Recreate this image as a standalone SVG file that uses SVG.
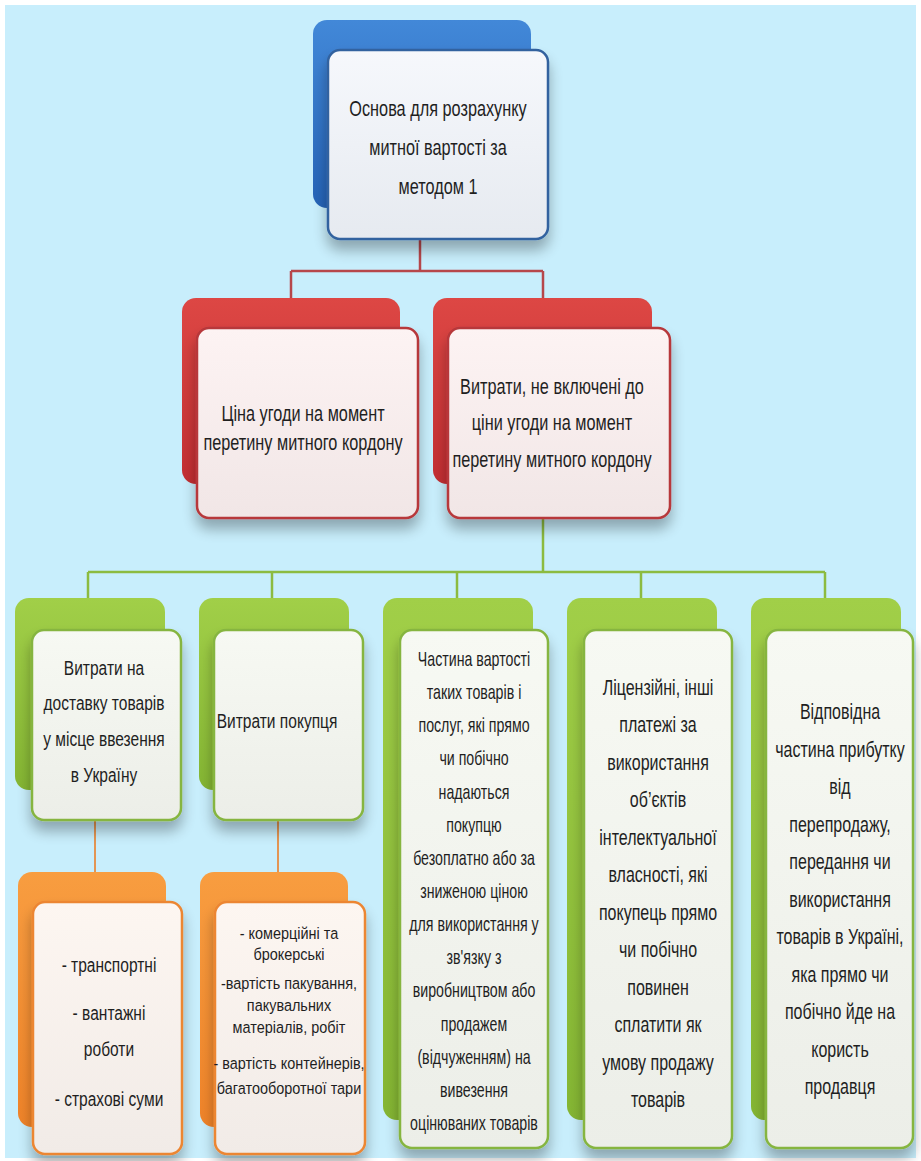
<svg xmlns="http://www.w3.org/2000/svg" width="921" height="1161" viewBox="0 0 921 1161">
  <defs>
    <style>
      .t { font-family: "Liberation Sans", "DejaVu Sans", sans-serif; fill: #1f1f1f; text-anchor: middle; }
      .f22 { font-size: 22px; }
      .f215 { font-size: 21.5px; }
      .f21 { font-size: 21px; }
      .f20 { font-size: 20px; }
      .f17 { font-size: 17px; }
      .back { stroke: none; }
      .front { stroke-width: 2.5; filter: url(#shadow); }
      .blue .back { fill: url(#gBlue); }
      .blue .front { fill: url(#gWhiteBlue); stroke: #33629f; }
      .red .back { fill: url(#gRed); }
      .red .front { fill: url(#gWhiteRed); stroke: #b7373a; }
      .green .back { fill: url(#gGreen); }
      .green .front { fill: url(#gWhiteGreen); stroke: #86b540; }
      .orange .back { fill: url(#gOrange); }
      .orange .front { fill: url(#gWhiteOrange); stroke: #ec8633; }
      .c-red { stroke: #b6474b; stroke-width: 2.5; fill: none; }
      .c-green { stroke: #8cbb40; stroke-width: 2.5; fill: none; }
      .c-orange { stroke: #e39553; stroke-width: 2; fill: none; }
    </style>
    <linearGradient id="gBlue" x1="0" y1="0" x2="0" y2="1">
      <stop offset="0" stop-color="#4288d8"/>
      <stop offset="1" stop-color="#2563b6"/>
    </linearGradient>
    <linearGradient id="gRed" x1="0" y1="0" x2="0" y2="1">
      <stop offset="0" stop-color="#dd4744"/>
      <stop offset="1" stop-color="#c22e32"/>
    </linearGradient>
    <linearGradient id="gGreen" x1="0" y1="0" x2="0" y2="1">
      <stop offset="0" stop-color="#a1cf48"/>
      <stop offset="1" stop-color="#84b533"/>
    </linearGradient>
    <linearGradient id="gOrange" x1="0" y1="0" x2="0" y2="1">
      <stop offset="0" stop-color="#f89d40"/>
      <stop offset="1" stop-color="#ef8329"/>
    </linearGradient>
    <linearGradient id="gWhiteBlue" x1="0" y1="0" x2="0" y2="1">
      <stop offset="0" stop-color="#f6f8fc"/>
      <stop offset="1" stop-color="#e6eaf0"/>
    </linearGradient>
    <linearGradient id="gWhiteRed" x1="0" y1="0" x2="0" y2="1">
      <stop offset="0" stop-color="#fdf3f3"/>
      <stop offset="1" stop-color="#f1e6e6"/>
    </linearGradient>
    <linearGradient id="gWhiteGreen" x1="0" y1="0" x2="0" y2="1">
      <stop offset="0" stop-color="#f7f9f3"/>
      <stop offset="1" stop-color="#eceee8"/>
    </linearGradient>
    <linearGradient id="gWhiteOrange" x1="0" y1="0" x2="0" y2="1">
      <stop offset="0" stop-color="#fdf6f1"/>
      <stop offset="1" stop-color="#f1ebe7"/>
    </linearGradient>
    <filter id="shadow" x="-20%" y="-20%" width="140%" height="150%">
      <feGaussianBlur in="SourceAlpha" stdDeviation="7"/>
      <feOffset dx="0" dy="10" result="off"/>
      <feComponentTransfer>
        <feFuncA type="linear" slope="0.3"/>
      </feComponentTransfer>
      <feMerge>
        <feMergeNode/>
        <feMergeNode in="SourceGraphic"/>
      </feMerge>
    </filter>
  </defs>

  <!-- canvas -->
  <rect x="0" y="0" width="921" height="1161" fill="#ffffff"/>
  <rect x="5" y="5" width="911" height="1153" fill="#c8eefc"/>

  <!-- connectors -->
  <g id="connectors">
    <path class="c-red" d="M420 239 V271 M291 271 H543 M291 271 V299 M543 271 V299"/>
    <path class="c-green" d="M543 518 V572 M88 572 H825 M88 572 V599 M272 572 V599 M457 572 V599 M641 572 V599 M825 572 V599"/>
    <path class="c-orange" d="M95 820 V873 M278 820 V873"/>
  </g>

  <!-- level 1 -->
  <g id="node-root" class="blue">
    <rect class="back" x="313" y="20" width="218" height="188" rx="14"/>
    <rect class="front" x="328" y="50" width="220" height="189" rx="12"/>
    <g class="t f22" transform="translate(438 0) scale(0.74 1)">
      <text x="0" y="116">Основа для розрахунку</text>
      <text x="0" y="155">митної вартості за</text>
      <text x="0" y="194">методом 1</text>
    </g>
  </g>

  <!-- level 2 -->
  <g id="node-price" class="red">
    <rect class="back" x="182" y="298" width="218" height="186" rx="14"/>
    <rect class="front" x="197" y="328" width="221" height="190" rx="12"/>
    <g class="t f22" transform="translate(303 0) scale(0.74 1)">
      <text x="0" y="421">Ціна угоди на момент</text>
      <text x="0" y="450">перетину митного кордону</text>
    </g>
  </g>

  <g id="node-costs" class="red">
    <rect class="back" x="433" y="298" width="219" height="186" rx="14"/>
    <rect class="front" x="448" y="328" width="222" height="190" rx="12"/>
    <g class="t f22" transform="translate(552 0) scale(0.74 1)">
      <text x="0" y="394">Витрати, не включені до</text>
      <text x="0" y="430">ціни угоди на момент</text>
      <text x="0" y="467">перетину митного кордону</text>
    </g>
  </g>

  <!-- level 3 -->
  <g id="node-delivery" class="green">
    <rect class="back" x="15" y="598" width="150" height="192" rx="14"/>
    <rect class="front" x="32" y="630" width="149" height="190" rx="12"/>
    <g class="t f21" transform="translate(104 0) scale(0.74 1)">
      <text x="0" y="675">Витрати на</text>
      <text x="0" y="710">доставку товарів</text>
      <text x="0" y="746">у місце ввезення</text>
      <text x="0" y="782">в Україну</text>
    </g>
  </g>

  <g id="node-buyer" class="green">
    <rect class="back" x="199" y="598" width="150" height="192" rx="14"/>
    <rect class="front" x="214" y="630" width="149" height="190" rx="12"/>
    <g class="t f21" transform="translate(277 0) scale(0.74 1)">
      <text x="0" y="728">Витрати покупця</text>
    </g>
  </g>

  <g id="node-share" class="green">
    <rect class="back" x="383" y="598" width="150" height="522" rx="14"/>
    <rect class="front" x="400" y="630" width="148" height="518" rx="12"/>
    <g class="t f20" transform="translate(474 0) scale(0.71 1)">
      <text x="0" y="666">Частина вартості</text>
      <text x="0" y="699">таких товарів і</text>
      <text x="0" y="732">послуг, які прямо</text>
      <text x="0" y="765">чи побічно</text>
      <text x="0" y="799">надаються</text>
      <text x="0" y="832">покупцю</text>
      <text x="0" y="865">безоплатно або за</text>
      <text x="0" y="898">зниженою ціною</text>
      <text x="0" y="931">для використання у</text>
      <text x="0" y="964">зв'язку з</text>
      <text x="0" y="997">виробництвом або</text>
      <text x="0" y="1031">продажем</text>
      <text x="0" y="1064">(відчуженням) на</text>
      <text x="0" y="1097">вивезення</text>
      <text x="0" y="1130">оцінюваних товарів</text>
    </g>
  </g>

  <g id="node-license" class="green">
    <rect class="back" x="567" y="598" width="150" height="522" rx="14"/>
    <rect class="front" x="584" y="630" width="148" height="518" rx="12"/>
    <g class="t f215" transform="translate(658 0) scale(0.745 1)">
      <text x="0" y="695">Ліцензійні, інші</text>
      <text x="0" y="732">платежі за</text>
      <text x="0" y="770">використання</text>
      <text x="0" y="807">об’єктів</text>
      <text x="0" y="845">інтелектуальної</text>
      <text x="0" y="882">власності, які</text>
      <text x="0" y="920">покупець прямо</text>
      <text x="0" y="957">чи побічно</text>
      <text x="0" y="995">повинен</text>
      <text x="0" y="1032">сплатити як</text>
      <text x="0" y="1070">умову продажу</text>
      <text x="0" y="1107">товарів</text>
    </g>
  </g>

  <g id="node-profit" class="green">
    <rect class="back" x="751" y="598" width="150" height="522" rx="14"/>
    <rect class="front" x="766" y="630" width="147" height="518" rx="12"/>
    <g class="t f215" transform="translate(840 0) scale(0.745 1)">
      <text x="0" y="719">Відповідна</text>
      <text x="0" y="757">частина прибутку</text>
      <text x="0" y="794">від</text>
      <text x="0" y="832">перепродажу,</text>
      <text x="0" y="869">передання чи</text>
      <text x="0" y="907">використання</text>
      <text x="0" y="944">товарів в Україні,</text>
      <text x="0" y="982">яка прямо чи</text>
      <text x="0" y="1019">побічно йде на</text>
      <text x="0" y="1057">користь</text>
      <text x="0" y="1094">продавця</text>
    </g>
  </g>

  <!-- level 4 -->
  <g id="node-transport" class="orange">
    <rect class="back" x="18" y="872" width="148" height="255" rx="14"/>
    <rect class="front" x="33" y="902" width="149" height="252" rx="12"/>
    <g class="t f21" transform="translate(109 0) scale(0.74 1)">
      <text x="0" y="972">- транспортні</text>
      <text x="0" y="1020">- вантажні</text>
      <text x="0" y="1056">роботи</text>
      <text x="0" y="1106">- страхові суми</text>
    </g>
  </g>

  <g id="node-commission" class="orange">
    <rect class="back" x="200" y="872" width="148" height="255" rx="14"/>
    <rect class="front" x="215" y="902" width="150" height="252" rx="12"/>
    <g class="t f17" transform="translate(289 0) scale(0.85 1)">
      <text x="0" y="939">- комерційні та</text>
      <text x="0" y="960">брокерські</text>
      <text x="0" y="989">-вартість пакування,</text>
      <text x="0" y="1011">пакувальних</text>
      <text x="0" y="1033">матеріалів, робіт</text>
      <text x="0" y="1069">- вартість контейнерів,</text>
      <text x="0" y="1094">багатооборотної тари</text>
    </g>
  </g>
</svg>
